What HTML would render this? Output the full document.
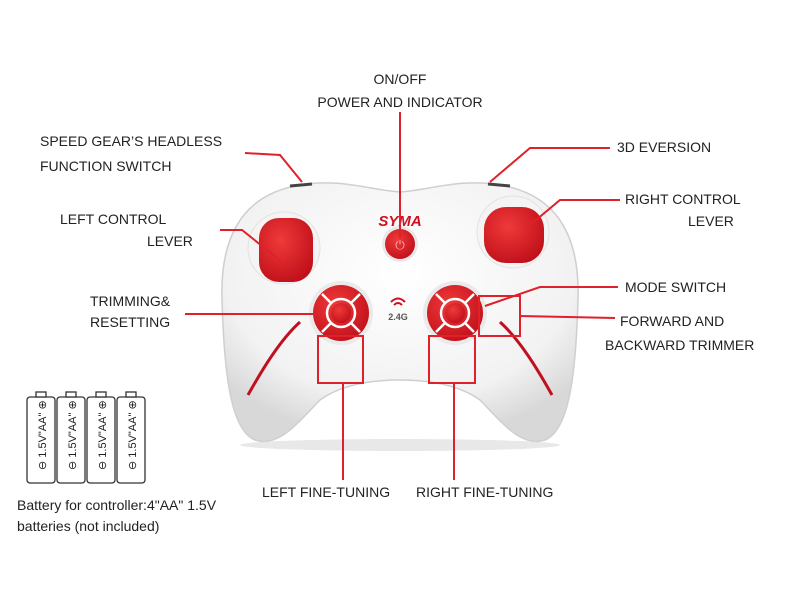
<!DOCTYPE html>
<html><head><meta charset="utf-8"><style>
html,body{margin:0;padding:0;background:#fff;width:800px;height:600px;overflow:hidden}
svg text{font-family:"Liberation Sans",sans-serif;fill:#222}
</style></head><body>
<svg width="800" height="600" viewBox="0 0 800 600" xmlns="http://www.w3.org/2000/svg">
<defs>
<radialGradient id="body" cx="50%" cy="35%" r="65%">
<stop offset="0" stop-color="#ffffff"/><stop offset="0.75" stop-color="#f2f2f2"/><stop offset="1" stop-color="#d8d8d8"/>
</radialGradient>
<radialGradient id="red" cx="40%" cy="35%" r="70%">
<stop offset="0" stop-color="#f03a3a"/><stop offset="1" stop-color="#c0101a"/>
</radialGradient>
</defs>
<ellipse cx="400" cy="445" rx="160" ry="6" fill="#e8e8e8"/>
<path d="M300,185 C340,178 370,190 400,192 C430,190 460,178 500,185 C560,195 580,240 578,300 C576,370 570,430 545,440 C520,448 500,420 480,400 C455,382 420,380 400,380 C380,380 345,382 320,400 C300,420 280,448 255,440 C230,430 224,370 222,300 C220,240 240,195 300,185 Z" fill="url(#body)" stroke="#cfcfcf" stroke-width="1.5"/>
<path d="M290,186 L312,184" stroke="#444" stroke-width="3"/>
<path d="M488,184 L510,186" stroke="#444" stroke-width="3"/>
<path d="M300,322 C280,340 262,370 248,395" stroke="#c01020" stroke-width="3" fill="none"/>
<path d="M500,322 C520,340 538,370 552,395" stroke="#c01020" stroke-width="3" fill="none"/>
<circle cx="284" cy="248" r="36" fill="#f4f4f4" stroke="#e2e2e2"/>
<circle cx="513" cy="232" r="36" fill="#f4f4f4" stroke="#e2e2e2"/>
<rect x="259" y="218" width="54" height="64" rx="20" fill="url(#red)"/>
<rect x="484" y="207" width="60" height="56" rx="22" fill="url(#red)"/>
<text x="400" y="226" text-anchor="middle" font-size="15" font-weight="bold" font-style="italic" style="fill:#d01020">SYMA</text>
<circle cx="400" cy="244" r="18" fill="#e8e8e8"/>
<circle cx="400" cy="244" r="15" fill="url(#red)"/>
<text x="400" y="249" text-anchor="middle" font-size="12" style="fill:#f8b0b0">⏻</text>
<g>
<circle cx="341" cy="313" r="32" fill="#eaeaea"/>
<circle cx="341" cy="313" r="28" fill="url(#red)"/>
<circle cx="341" cy="313" r="14" fill="none" stroke="#fff" stroke-width="2.5"/>
<path d="M322,294 L331,303 M360,294 L351,303 M322,332 L331,323 M360,332 L351,323" stroke="#fff" stroke-width="2.5"/>
<circle cx="341" cy="313" r="10" fill="url(#red)"/>
</g>
<g>
<circle cx="455" cy="313" r="32" fill="#eaeaea"/>
<circle cx="455" cy="313" r="28" fill="url(#red)"/>
<circle cx="455" cy="313" r="14" fill="none" stroke="#fff" stroke-width="2.5"/>
<path d="M436,294 L445,303 M474,294 L465,303 M436,332 L445,323 M474,332 L465,323" stroke="#fff" stroke-width="2.5"/>
<circle cx="455" cy="313" r="10" fill="url(#red)"/>
</g>
<path d="M391,302 Q398,295 405,302 M394,305 Q398,301 402,305" stroke="#d01020" stroke-width="2" fill="none"/>
<text x="398" y="320" text-anchor="middle" font-size="9" font-weight="bold" style="fill:#555">2.4G</text>
<g stroke="#e0202a" stroke-width="2" fill="none">
<path d="M245,153 L280,155 L302,182"/>
<path d="M400,112 L400,238"/>
<path d="M610,148 L530,148 L490,182"/>
<path d="M220,230 L242,230 L282,262"/>
<path d="M620,200 L560,200 L530,225"/>
<path d="M185,314 L313,314"/>
<path d="M618,287 L540,287 L485,306"/>
<rect x="479" y="296" width="41" height="40"/>
<path d="M520,316 L615,318"/>
<rect x="318" y="336" width="45" height="47"/>
<path d="M343,383 L343,480"/>
<rect x="429" y="336" width="46" height="47"/>
<path d="M454,383 L454,480"/>
</g>
<g font-size="14">
<text x="400" y="84" text-anchor="middle">ON/OFF</text>
<text x="400" y="107" text-anchor="middle">POWER AND INDICATOR</text>
<text x="40" y="146">SPEED GEAR’S HEADLESS</text>
<text x="40" y="171">FUNCTION SWITCH</text>
<text x="617" y="152">3D EVERSION</text>
<text x="60" y="224">LEFT CONTROL</text>
<text x="147" y="246">LEVER</text>
<text x="625" y="204">RIGHT CONTROL</text>
<text x="688" y="226">LEVER</text>
<text x="90" y="306">TRIMMING&amp;</text>
<text x="90" y="327">RESETTING</text>
<text x="625" y="292">MODE SWITCH</text>
<text x="620" y="326">FORWARD AND</text>
<text x="605" y="350">BACKWARD TRIMMER</text>
<text x="262" y="497">LEFT FINE-TUNING</text>
<text x="416" y="497">RIGHT FINE-TUNING</text>
</g>
<g stroke="#333" stroke-width="1.3" fill="#fff">
<rect x="27" y="397" width="28" height="86" rx="3"/><rect x="36" y="392" width="10" height="5"/>
<rect x="57" y="397" width="28" height="86" rx="3"/><rect x="66" y="392" width="10" height="5"/>
<rect x="87" y="397" width="28" height="86" rx="3"/><rect x="96" y="392" width="10" height="5"/>
<rect x="117" y="397" width="28" height="86" rx="3"/><rect x="126" y="392" width="10" height="5"/>
</g>
<g font-size="11">
<text transform="translate(46,470) rotate(-90)">⊖ 1.5V"AA" ⊕</text>
<text transform="translate(76,470) rotate(-90)">⊖ 1.5V"AA" ⊕</text>
<text transform="translate(106,470) rotate(-90)">⊖ 1.5V"AA" ⊕</text>
<text transform="translate(136,470) rotate(-90)">⊖ 1.5V"AA" ⊕</text>
</g>
<text x="17" y="510" font-size="14">Battery for controller:4"AA" 1.5V</text>
<text x="17" y="531" font-size="14">batteries (not included)</text>
</svg>
</body></html>
